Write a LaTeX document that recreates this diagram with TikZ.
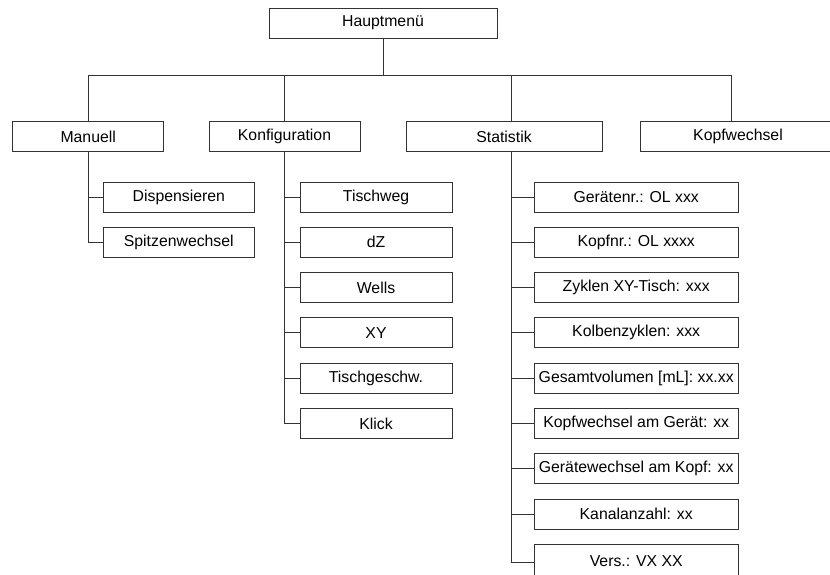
\documentclass[tikz,border=0pt]{standalone}
\usepackage{fontspec}
\setmainfont{Liberation Sans}
\begin{document}
\begin{tikzpicture}[x=1pt,y=-1pt,
  menubox/.style={draw=black!80,line width=1pt,fill=white,inner sep=0pt,
    minimum height=30pt,font=\fontsize{15.8}{18}\selectfont},
  link/.style={draw=black!80,line width=1pt}]
\useasboundingbox (0,0) rectangle (830,574);
\clip (0,0) rectangle (830,574);

% top level
\node[menubox,minimum width=228pt] (haupt) at (383,23) {Hauptmenü};
\coordinate (bus) at (383,75.7);

% second level
\node[menubox,minimum width=151pt] (manuell) at (88.2,136.7) {Manuell};
\node[menubox,minimum width=151pt] (konfig) at (284.5,136.7) {Konfiguration};
\node[menubox,minimum width=196pt] (statistik) at (504,136.7) {Statistik};
\node[menubox,minimum width=196pt] (kopf) at (738,136.7) {Kopfwechsel};

\draw[link] (haupt.south) -- (bus);
\draw[link] (manuell.north) |- (bus) -| ([xshift=-7pt]kopf.north);
\draw[link] (konfig.north) -- (konfig.north |- bus);
\draw[link] ([xshift=7pt]statistik.north) -- ([xshift=7pt]statistik.north |- bus);

% Manuell
\node[menubox,minimum width=151pt] (disp) at (178.8,197) {Dispensieren};
\node[menubox,minimum width=151pt] (spitz) at (178.8,242.3) {Spitzenwechsel};
\foreach \c in {disp,spitz} \draw[link] (manuell.south) |- (\c.west);

% Konfiguration
\node[menubox,minimum width=152pt] (tischweg) at (376,197) {Tischweg};
\node[menubox,minimum width=152pt] (dz) at (376,242.3) {dZ};
\node[menubox,minimum width=152pt] (wells) at (376,287.6) {Wells};
\node[menubox,minimum width=152pt] (xy) at (376,332.9) {XY};
\node[menubox,minimum width=152pt] (tgeschw) at (376,378.2) {Tischgeschw.};
\node[menubox,minimum width=152pt] (klick) at (376,423.4) {Klick};
\foreach \c in {tischweg,dz,wells,xy,tgeschw,klick}
  \draw[link] (konfig.south) |- (\c.west);

% Statistik
\coordinate (stspine) at (511.6,151.7);
\node[menubox,minimum width=204pt] (geraetnr) at (636.2,197) {Gerätenr.: OL xxx};
\node[menubox,minimum width=204pt] (kopfnr) at (636.2,242.3) {Kopfnr.: OL xxxx};
\node[menubox,minimum width=204pt] (zyklen) at (636.2,287.6) {Zyklen XY-Tisch: xxx};
\node[menubox,minimum width=204pt] (kolben) at (636.2,332.9) {Kolbenzyklen: xxx};
\node[menubox,minimum width=204pt] (gesamt) at (636.2,378.2) {Gesamtvolumen [mL]: xx.xx};
\node[menubox,minimum width=204pt] (kwgeraet) at (636.2,423.4) {Kopfwechsel am Gerät: xx};
\node[menubox,minimum width=204pt] (gwkopf) at (636.2,468.7) {Gerätewechsel am Kopf: xx};
\node[menubox,minimum width=204pt] (kanal) at (636.2,514) {Kanalanzahl: xx};
\node[menubox,minimum width=204pt,minimum height=33pt] (vers) at (636.2,560.8) {Vers.: VX XX};
\foreach \c in {geraetnr,kopfnr,zyklen,kolben,gesamt,kwgeraet,gwkopf,kanal}
  \draw[link] (stspine) |- (\c.west);
\draw[link] (stspine) |- ([yshift=-1.5pt]vers.west);
\end{tikzpicture}
\end{document}
